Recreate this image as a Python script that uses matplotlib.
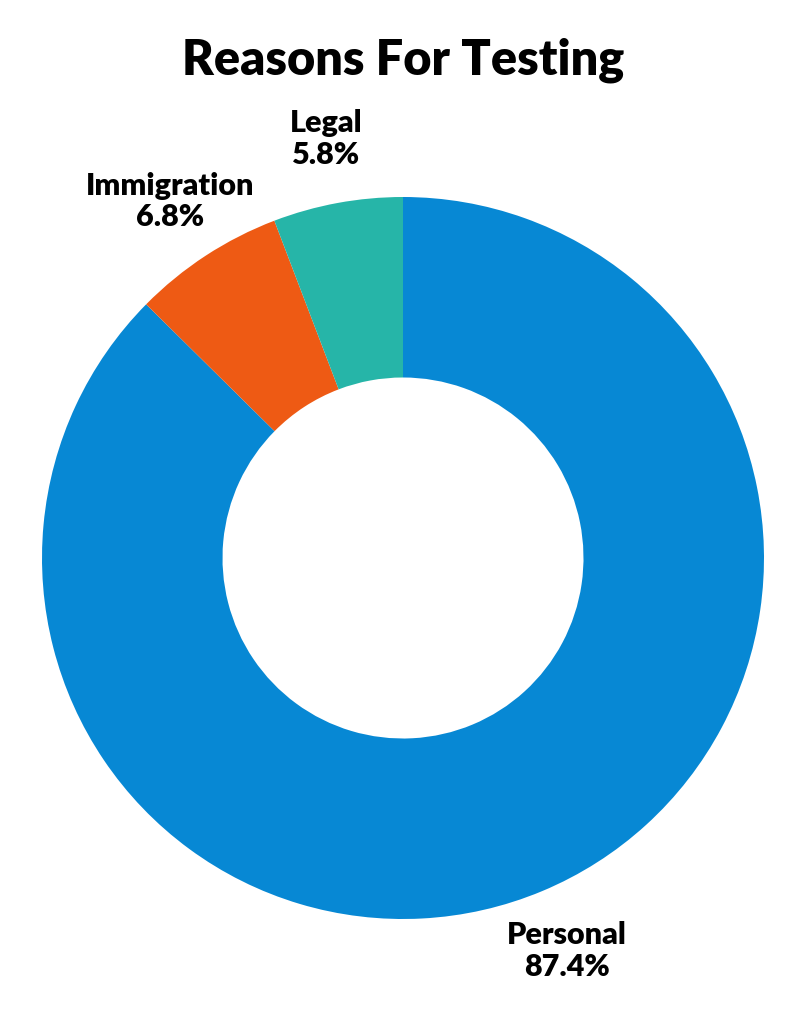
import matplotlib.pyplot as plt

plt.rcParams['font.family'] = ['Lato', 'DejaVu Sans']

categories = ["Personal", "Immigration", "Legal"]
shares = [87.4, 6.8, 5.8]
colors = ["#0788D4", "#EE5A14", "#26B5A8"]

labels = [f"{c}\n{v}%" for c, v in zip(categories, shares)]

fig = plt.figure(figsize=(8.07, 10.24), dpi=100)
ax = fig.add_axes([42 / 807, 105 / 1024, 722 / 807, 722 / 1024])

wedges, texts = ax.pie(shares, labels=labels, colors=colors, startangle=90,
                       counterclock=False, radius=1.0, labeldistance=1.18,
                       wedgeprops=dict(width=0.5, linewidth=0),
                       textprops=dict(fontsize=22, fontweight='heavy', color='black',
                                      ha='center', va='center', linespacing=1.15))
for t in texts:
    t.set_horizontalalignment('center')

ax.set_xlim(-1, 1)
ax.set_ylim(-1, 1)
ax.axis('off')

fig.text(0.5, 1 - 60 / 1024, "Reasons For Testing", ha='center', va='center',
         fontsize=35, fontweight='heavy', color='black')

fig.savefig("out.png", dpi=100)
